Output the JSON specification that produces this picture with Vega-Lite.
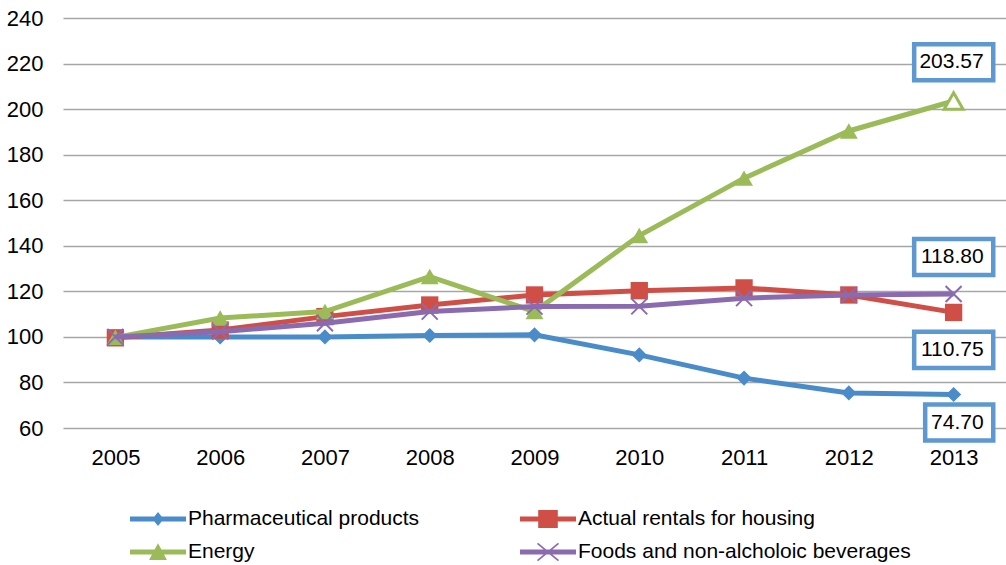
{
  "$schema": "https://vega.github.io/schema/vega-lite/v6.json",
  "width": 943,
  "height": 410,
  "autosize": {"type": "none"},
  "padding": {"left": 63, "top": 18, "right": 0, "bottom": 137},
  "background": "white",
  "config": {
    "view": {"stroke": null},
    "font": "Liberation Sans",
    "text": {"font": "Liberation Sans"}
  },
  "datasets": {
    "series": [
      {"year": "2005", "series": "Pharmaceutical products", "value": 100},
      {"year": "2006", "series": "Pharmaceutical products", "value": 100},
      {"year": "2007", "series": "Pharmaceutical products", "value": 100},
      {"year": "2008", "series": "Pharmaceutical products", "value": 100.6},
      {"year": "2009", "series": "Pharmaceutical products", "value": 100.9},
      {"year": "2010", "series": "Pharmaceutical products", "value": 92.1},
      {"year": "2011", "series": "Pharmaceutical products", "value": 81.9},
      {"year": "2012", "series": "Pharmaceutical products", "value": 75.4},
      {"year": "2013", "series": "Pharmaceutical products", "value": 74.7},
      {"year": "2005", "series": "Actual rentals for housing", "value": 99.6},
      {"year": "2006", "series": "Actual rentals for housing", "value": 103},
      {"year": "2007", "series": "Actual rentals for housing", "value": 108.9},
      {"year": "2008", "series": "Actual rentals for housing", "value": 114},
      {"year": "2009", "series": "Actual rentals for housing", "value": 118.4},
      {"year": "2010", "series": "Actual rentals for housing", "value": 120.3},
      {"year": "2011", "series": "Actual rentals for housing", "value": 121.5},
      {"year": "2012", "series": "Actual rentals for housing", "value": 118.4},
      {"year": "2013", "series": "Actual rentals for housing", "value": 110.75},
      {"year": "2005", "series": "Energy", "value": 99.8},
      {"year": "2006", "series": "Energy", "value": 108.3},
      {"year": "2007", "series": "Energy", "value": 111.1},
      {"year": "2008", "series": "Energy", "value": 126.5},
      {"year": "2009", "series": "Energy", "value": 111.1},
      {"year": "2010", "series": "Energy", "value": 144.5},
      {"year": "2011", "series": "Energy", "value": 169.7},
      {"year": "2012", "series": "Energy", "value": 190.4},
      {"year": "2013", "series": "Energy", "value": 203.57},
      {"year": "2005", "series": "Foods and non-alcholoic beverages", "value": 100},
      {"year": "2006", "series": "Foods and non-alcholoic beverages", "value": 102.3},
      {"year": "2007", "series": "Foods and non-alcholoic beverages", "value": 106},
      {"year": "2008", "series": "Foods and non-alcholoic beverages", "value": 111.1},
      {"year": "2009", "series": "Foods and non-alcholoic beverages", "value": 113.3},
      {"year": "2010", "series": "Foods and non-alcholoic beverages", "value": 113.4},
      {"year": "2011", "series": "Foods and non-alcholoic beverages", "value": 117},
      {"year": "2012", "series": "Foods and non-alcholoic beverages", "value": 118.4},
      {"year": "2013", "series": "Foods and non-alcholoic beverages", "value": 118.8}
    ],
    "labels": [
      {"year": "2013", "pos": 220.6, "label": "203.57"},
      {"year": "2013", "pos": 135.1, "label": "118.80"},
      {"year": "2013", "pos": 94.3, "label": "110.75"},
      {"year": "2013", "pos": 62.4, "label": "74.70"}
    ]
  },
  "data": {"name": "series"},
  "encoding": {
    "x": {
      "field": "year",
      "type": "ordinal",
      "scale": {"type": "point", "padding": 0.5},
      "axis": {
        "title": null,
        "domain": false,
        "ticks": false,
        "grid": false,
        "labelAngle": 0,
        "labelPadding": 19,
        "labelFontSize": 22,
        "labelColor": "black",
        "labelFont": "Liberation Sans"
      }
    }
  },
  "layer": [
    {
      "transform": [{"filter": "datum.series == 'Pharmaceutical products'"}],
      "encoding": {
        "y": {
          "field": "value",
          "type": "quantitative",
          "scale": {"domain": [60, 240], "nice": false, "zero": false},
          "axis": {
            "title": null,
            "values": [60, 80, 100, 120, 140, 160, 180, 200, 220, 240],
            "domain": false,
            "ticks": false,
            "grid": true,
            "gridColor": "#a6a6a6",
            "gridWidth": 1.5,
            "labelPadding": 20,
            "labelFontSize": 22,
            "labelColor": "black",
            "labelFont": "Liberation Sans"
          }
        }
      },
      "layer": [
        {"mark": {"type": "line", "color": "#4a8cca", "strokeWidth": 5}},
        {"mark": {"type": "point", "shape": "diamond", "filled": true, "color": "#4a8cca", "size": 230, "opacity": 1}}
      ]
    },
    {
      "transform": [{"filter": "datum.series == 'Actual rentals for housing'"}],
      "encoding": {"y": {"field": "value", "type": "quantitative"}},
      "layer": [
        {"mark": {"type": "line", "color": "#cf4f47", "strokeWidth": 5}},
        {"mark": {"type": "point", "shape": "square", "filled": true, "color": "#cf4f47", "size": 300, "opacity": 1}}
      ]
    },
    {
      "transform": [{"filter": "datum.series == 'Energy'"}],
      "encoding": {"y": {"field": "value", "type": "quantitative"}},
      "layer": [
        {"mark": {"type": "line", "color": "#9bbb59", "strokeWidth": 5}},
        {
          "mark": {"type": "point", "shape": "triangle-up", "filled": true, "stroke": "#9bbb59", "opacity": 1},
          "encoding": {
            "fill": {"condition": {"test": "datum.year == '2013'", "value": "white"}, "value": "#9bbb59"},
            "strokeWidth": {"condition": {"test": "datum.year == '2013'", "value": 3}, "value": 0},
            "size": {"condition": {"test": "datum.year == '2013'", "value": 360}, "value": 320}
          }
        }
      ]
    },
    {
      "transform": [{"filter": "datum.series == 'Foods and non-alcholoic beverages'"}],
      "encoding": {"y": {"field": "value", "type": "quantitative"}},
      "layer": [
        {"mark": {"type": "line", "color": "#8a6bb0", "strokeWidth": 5}},
        {"mark": {"type": "point", "shape": "M-1,-1L1,1M1,-1L-1,1", "filled": false, "color": "#8a6bb0", "strokeWidth": 2, "size": 256, "opacity": 1}}
      ]
    },
    {
      "data": {"name": "labels"},
      "encoding": {"y": {"field": "pos", "type": "quantitative"}},
      "layer": [
        {
          "mark": {"type": "point", "filled": true, "fill": "white", "stroke": "#5e98d0", "strokeWidth": 4.5, "opacity": 1, "size": 6889},
          "encoding": {
            "shape": {
              "condition": {"test": "datum.label == '74.70'", "value": "M-0.685,-0.434H0.955V0.434H-0.685Z"},
              "value": "M-0.95,-0.434H0.955V0.434H-0.95Z"
            }
          }
        },
        {
          "mark": {"type": "text", "align": "right", "baseline": "middle", "dx": 30, "fontSize": 21, "color": "black", "font": "Liberation Sans"},
          "encoding": {"text": {"field": "label"}}
        }
      ]
    },
    {
      "transform": [{"filter": "false"}],
      "mark": {"type": "point", "filled": true, "opacity": 1},
      "encoding": {
        "y": {"field": "value", "type": "quantitative"},
        "color": {
          "field": "series",
          "type": "nominal",
          "scale": {
            "domain": ["Pharmaceutical products", "Actual rentals for housing", "Energy", "Foods and non-alcholoic beverages"],
            "range": ["#4a8cca", "#cf4f47", "#9bbb59", "#8a6bb0"]
          },
          "legend": {
            "title": null, "orient": "none", "legendX": 67, "legendY": 487, "direction": "horizontal", "columns": 2,
            "symbolSize": 784, "symbolStrokeWidth": 0, "symbolOpacity": 1, "labelOffset": 30, "labelFontSize": 21,
            "labelFont": "Liberation Sans", "labelColor": "black", "rowPadding": 9, "columnPadding": 100, "padding": 0, "labelLimit": 0
          }
        },
        "shape": {
          "field": "series",
          "type": "nominal",
          "scale": {
            "domain": ["Pharmaceutical products", "Actual rentals for housing", "Energy", "Foods and non-alcholoic beverages"],
            "range": [
              "M-1,-0.18H3V0.18H-1Z M1,-0.5L1.4,0L1,0.5L0.6,0Z",
              "M-1,-0.18H3V0.18H-1Z M0.3,-0.65H1.7V0.65H0.3Z",
              "M-1,-0.18H3V0.18H-1Z M1,-0.62L1.64,0.58H0.36Z",
              "M-1,-0.18H3V0.18H-1Z M0.288,-0.666L1.788,0.574L1.712,0.666L0.212,-0.574Z M1.788,-0.574L0.288,0.666L0.212,0.574L1.712,-0.666Z"
            ]
          },
          "legend": {
            "title": null, "orient": "none", "legendX": 67, "legendY": 487, "direction": "horizontal", "columns": 2,
            "symbolSize": 784, "symbolStrokeWidth": 0, "symbolOpacity": 1, "labelOffset": 30, "labelFontSize": 21,
            "labelFont": "Liberation Sans", "labelColor": "black", "rowPadding": 9, "columnPadding": 100, "padding": 0, "labelLimit": 0
          }
        }
      }
    }
  ]
}
